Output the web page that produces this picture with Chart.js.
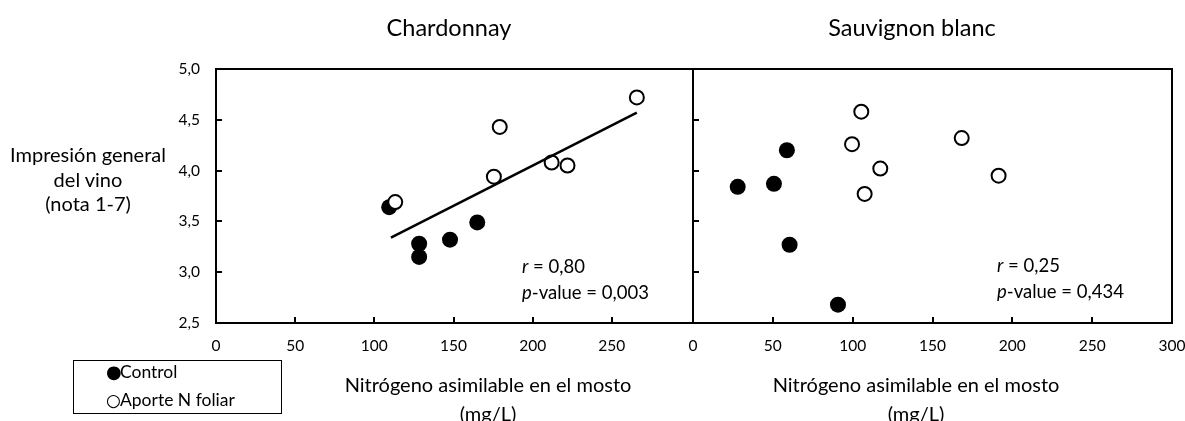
<!DOCTYPE html>
<html><head><meta charset="utf-8">
<script src="https://cdn.jsdelivr.net/npm/chart.js@4.4.1/dist/chart.umd.min.js"></script>
<style>
html,body{margin:0;padding:0;background:#fff;}
#wrap{position:relative;width:1185px;height:421px;overflow:hidden;font-family:Lato,sans-serif;color:#000;background:#fff;}
canvas{position:absolute;top:0;}
.t{position:absolute;white-space:nowrap;line-height:1;}
.c{transform:translateX(-50%);text-align:center;}
#legend{position:absolute;left:73px;top:360px;width:207px;height:52px;border:1.5px solid #000;}
.sym{font-family:"DejaVu Sans",sans-serif;display:inline-block;width:14px;text-align:left;}
</style></head><body>
<div id="wrap">
<canvas id="cA" width="700" height="421" style="left:0"></canvas>
<canvas id="cB" width="502" height="421" style="left:683px"></canvas>

<div class="t c" style="left:449px;top:16px;font-size:23.5px;">Chardonnay</div>
<div class="t c" style="left:912px;top:16px;font-size:23.5px;">Sauvignon blanc</div>

<div class="t c" style="left:88px;top:142px;font-size:20px;line-height:24.5px;">Impresión general<br>del vino<br>(nota 1-7)</div>

<div class="t c" style="left:488px;top:370px;font-size:20px;line-height:29px;">Nitrógeno asimilable en el mosto<br>(mg/L)</div>
<div class="t c" style="left:916px;top:370px;font-size:20px;line-height:29px;">Nitrógeno asimilable en el mosto<br>(mg/L)</div>

<div class="t" style="left:522px;top:253px;font-size:18.5px;line-height:26px;"><i>r</i> = 0,80<br><i>p</i>-value = 0,003</div>
<div class="t" style="left:997px;top:252px;font-size:18.5px;line-height:26px;"><i>r</i> = 0,25<br><i>p</i>-value = 0,434</div>

<div id="legend"></div>
<div class="t" style="left:106px;top:358px;font-size:17.5px;line-height:28px;"><span class="sym" style="font-size:18px">●</span>Control<br><span class="sym" style="font-size:17px;font-weight:bold">○</span>Aporte N foliar</div>
</div>
<script>
// ---- data ----
const xTickValues = [0, 50, 100, 150, 200, 250, 300];
const yTickValues = [2.5, 3.0, 3.5, 4.0, 4.5, 5.0];

const chardControlX = [109.4, 128.3, 128.3, 147.8, 165.0];
const chardControlY = [3.64, 3.28, 3.15, 3.32, 3.49];
const chardFoliarX  = [113.2, 175.5, 179.2, 212.0, 222.0, 265.8];
const chardFoliarY  = [3.69, 3.94, 4.43, 4.08, 4.05, 4.72];
const chardTrendX   = [110.5, 265.8];
const chardTrendY   = [3.34, 4.57];

const sauvControlX = [28.0, 50.7, 58.8, 60.5, 90.8];
const sauvControlY = [3.84, 3.87, 4.20, 3.27, 2.68];
const sauvFoliarX  = [105.4, 99.6, 117.3, 107.5, 168.3, 191.4];
const sauvFoliarY  = [4.58, 4.26, 4.02, 3.77, 4.32, 3.95];

function pts(xs, ys){ return xs.map((x,i)=>({x:x, y:ys[i]})); }
const fmtY = v => Number(v).toFixed(1).replace('.', ',');

const framePlugin = {
  id:'frame',
  beforeDatasetsDraw(chart, args, opts){
    const {ctx, chartArea:a, scales} = chart;
    ctx.save();
    ctx.strokeStyle = '#000';
    ctx.lineWidth = 2;
    ctx.lineCap = 'square';
    ctx.beginPath();
    ctx.moveTo(a.left, a.top); ctx.lineTo(a.left, a.bottom); ctx.lineTo(a.right, a.bottom);
    ctx.moveTo(a.left, a.top); ctx.lineTo(a.right, a.top);
    if (opts.rightEdge) { ctx.moveTo(a.right, a.top); ctx.lineTo(a.right, a.bottom); }
    ctx.stroke();
    ctx.beginPath();
    ctx.lineCap = 'butt';
    xTickValues.forEach(v => {
      if (v <= scales.x.min || v >= scales.x.max) return;
      const px = Math.round(scales.x.getPixelForValue(v));
      ctx.moveTo(px, a.bottom); ctx.lineTo(px, a.bottom - 6);
    });
    yTickValues.forEach(v => {
      if (v <= scales.y.min || v >= scales.y.max) return;
      const py = Math.round(scales.y.getPixelForValue(v));
      ctx.moveTo(a.left, py); ctx.lineTo(a.left + 6, py);
    });
    ctx.stroke();
    ctx.restore();
  }
};

const tickFont = {family:'Lato', size:15.5};

function makeChart(id, control, foliar, trend, showY, padRight, yWidth, lastLabel, rightEdge){
  const datasets = [];
  if (trend) datasets.push({label:'trend', data:trend, showLine:true, pointRadius:0, borderColor:'#000', borderWidth:2.5, order:0});
  datasets.push({label:'Aporte N foliar', data:foliar, pointRadius:7, pointHoverRadius:7, backgroundColor:'#fff', borderColor:'#000', borderWidth:2, order:1});
  datasets.push({label:'Control', data:control, pointRadius:8, pointHoverRadius:8, backgroundColor:'#000', borderColor:'#000', borderWidth:0, order:2});
  return new Chart(document.getElementById(id), {
    type:'scatter',
    data:{datasets},
    options:{
      responsive:false, animation:false, devicePixelRatio:1,
      layout:{padding:{top:69, right:padRight, bottom:0, left:0}},
      plugins:{legend:{display:false}, tooltip:{enabled:false}, title:{display:false}, frame:{rightEdge:rightEdge}},
      scales:{
        x:{type:'linear', min:0, max:300,
           grid:{display:false, drawTicks:false}, border:{display:false},
           afterBuildTicks: s => { s.ticks = xTickValues.map(v => ({value:v})); },
           ticks:{autoSkip:false, maxRotation:0, padding:14, color:'#000', font:tickFont,
                  callback: v => (v === 300 && !lastLabel) ? '' : String(v)},
           afterFit: s => { s.height = 98; s.paddingLeft = 0; s.paddingRight = 0; }},
        y:{type:'linear', min:2.5, max:5,
           grid:{display:false, drawTicks:false}, border:{display:false},
           afterBuildTicks: s => { s.ticks = yTickValues.map(v => ({value:v})); },
           ticks:{display:showY, padding:16, color:'#000', font:tickFont, callback: v => fmtY(v)},
           afterFit: s => { s.width = yWidth; s.paddingTop = 0; s.paddingBottom = 0; }}
      }
    },
    plugins:[framePlugin]
  });
}

makeChart('cA', pts(chardControlX, chardControlY), pts(chardFoliarX, chardFoliarY), pts(chardTrendX, chardTrendY), true, 7, 216, false, false);
makeChart('cB', pts(sauvControlX, sauvControlY), pts(sauvFoliarX, sauvFoliarY), null, false, 13, 10, true, true);
</script>
</body></html>
